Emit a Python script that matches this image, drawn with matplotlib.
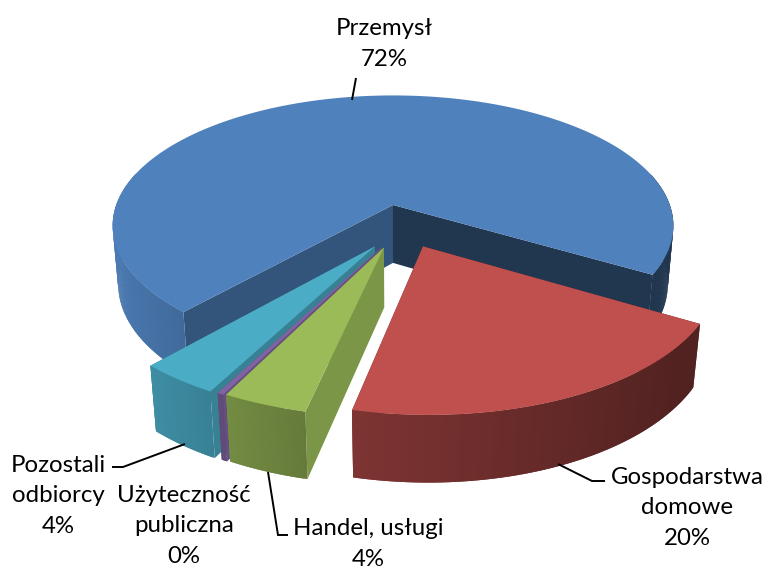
import matplotlib
matplotlib.use("Agg")
import matplotlib.pyplot as plt
import numpy as np

# Data
names = ["Przemysł", "Gospodarstwa\ndomowe", "Handel, usługi", "Użyteczność\npubliczna", "Pozostali\nodbiorcy"]
values = [71.8, 20.1, 4.0, 0.3, 3.8]
colors = ["#4f81bd", "#c0504d", "#9bbb59", "#8064a2", "#4bacc6"]

# Slice offsets in disc units (x, y)
explode_x = [0.0, 0.103, -0.031, -0.04, -0.062]
explode_y = [0.0, -0.31, -0.318, -0.318, -0.31]
wall_shade = [0.65, 0.5, 0.8, 0.8, 0.75]
end_wall_shade = [0.42, 0.5, 0.8, 0.8, 0.75]
draw_order = [0, 1, 4, 3, 2]

label_pos = [(384, 44), (687, 508), (368, 544), (184, 526), (58, 496)]
leaders = [
    [(356, 78), (352, 100)],
    [(558, 464), (592, 481), (605, 481)],
    [(268, 472), (278, 535), (288, 535)],
    [],
    [(185, 444), (123, 467), (112, 467)],
]

# Camera
CX, CY = 393, 205
F = 1550
D = 5.6
ELEV = np.radians(27.3)
DEPTH = 0.24
START = 228.1


def project(x, y, z):
    yc = y * np.sin(ELEV) + z * np.cos(ELEV)
    zc = D + y * np.cos(ELEV) - z * np.sin(ELEV)
    return CX + F * x / zc, CY - F * yc / zc


def shade(color, f):
    rgb = np.array(matplotlib.colors.to_rgb(color))
    return tuple(rgb * f)


def draw_slice(ax, i, a0, a1):
    # a0 > a1, the slices run clockwise
    n = max(int((a0 - a1) * 2), 4)
    t = np.radians(np.linspace(a0, a1, n + 1))
    ox, oy = explode_x[i], explode_y[i]
    xs = ox + np.cos(t)
    ys = oy + np.sin(t)

    # inner walls first, the side and the top go over them
    for k, f in [(0, wall_shade[i]), (-1, end_wall_shade[i])]:
        p = [project(ox, oy, 0), project(xs[k], ys[k], 0),
             project(xs[k], ys[k], -DEPTH), project(ox, oy, -DEPTH)]
        ax.fill(*zip(*p), color=shade(colors[i], f), lw=0)

    # outer side, each piece overlaps the next so no seams show
    for k in range(n):
        if np.sin(t[k]) > 0.25 and np.sin(t[k + 1]) > 0.25:
            continue
        f = np.interp(np.cos(t[k]), [-1, -0.6, -0.2, 0.8, 1], [0.95, 0.8, 0.65, 0.42, 0.42])
        m = min(k + 2, n)
        p = [project(xs[k], ys[k], 0), project(xs[m], ys[m], 0),
             project(xs[m], ys[m], -DEPTH), project(xs[k], ys[k], -DEPTH)]
        ax.fill(*zip(*p), color=shade(colors[i], f), lw=0)

    top = [project(ox, oy, 0)] + [project(a, b, 0) for a, b in zip(xs, ys)]
    ax.fill(*zip(*top), color=colors[i], lw=0)


fig = plt.figure(figsize=(7.68, 5.7), dpi=100)
ax = fig.add_axes([0, 0, 1, 1])
ax.set_xlim(0, 768)
ax.set_ylim(570, 0)
ax.axis("off")

total = sum(values)
spans = [v / total * 360 for v in values]
ends = START - np.cumsum(spans)
starts = np.concatenate([[START], ends[:-1]])

for i in draw_order:
    draw_slice(ax, i, starts[i], ends[i])

for line in leaders:
    if line:
        ax.plot(*zip(*line), color="black", lw=1.4, solid_capstyle="butt", solid_joinstyle="miter")

for name, v, pos in zip(names, values, label_pos):
    ax.text(pos[0], pos[1], f"{name}\n{round(v):d}%", ha="center", va="center",
            fontsize=17.3, family="Lato", linespacing=1.58, color="black")

fig.savefig("out.png", dpi=100)
